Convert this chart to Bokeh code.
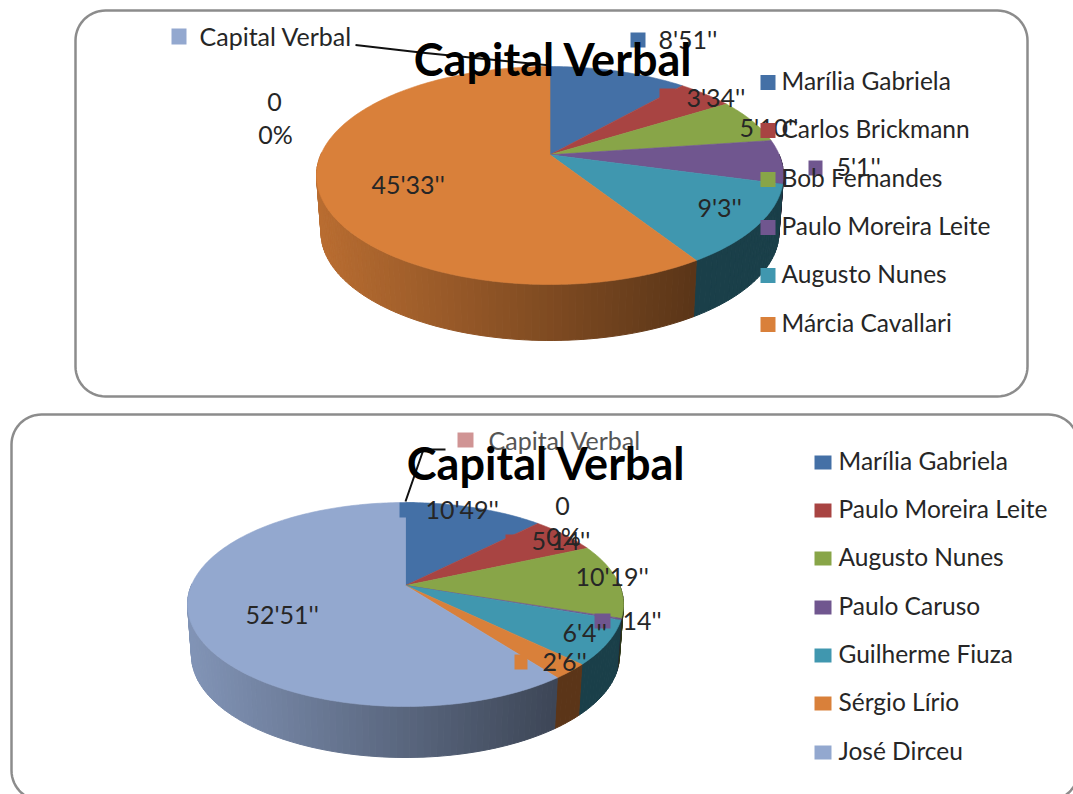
import math
from bokeh.plotting import figure
from bokeh.models import Range1d
from bokeh.core.properties import value
from bokeh.embed import file_html
from bokeh.resources import INLINE

TITLE = "Capital Verbal"
ZERO_SERIES = "Capital Verbal"

# Upper chart: seconds per speaker
top_names = ["Marília Gabriela", "Carlos Brickmann", "Bob Fernandes",
             "Paulo Moreira Leite", "Augusto Nunes", "Márcia Cavallari"]
top_seconds = [531, 214, 310, 301, 543, 2733]
top_labels = ["8'51''", "3'34''", "5'10''", "5'1''", "9'3''", "45'33''"]

# Lower chart: seconds per speaker
low_names = ["Marília Gabriela", "Paulo Moreira Leite", "Augusto Nunes", "Paulo Caruso",
             "Guilherme Fiuza", "Sérgio Lírio", "José Dirceu"]
low_seconds = [649, 314, 619, 14, 364, 126, 3171]
low_labels = ["10'49''", "5'14''", "10'19''", "14''", "6'4''", "2'6''", "52'51''"]

# Styling and layout, kept apart from the data
BLUE, RED, GREEN, PURPLE, TEAL, ORANGE, LIGHT = ("#4470A6", "#A84442", "#88A548", "#70568F",
                                                 "#4097AF", "#D9803A", "#93A8CF")
top_colors = [BLUE, RED, GREEN, PURPLE, TEAL, ORANGE]
low_colors = [BLUE, RED, GREEN, PURPLE, TEAL, ORANGE, LIGHT]
FONT = "Lato"
LEG_SIZE = "24.5px"
LAB_SIZE = "25px"
TITLE_SIZE = "45px"
TXT = "#262626"
W, H = 1073, 794

p = figure(width=W, height=H, x_range=Range1d(0, W), y_range=Range1d(H, 0),
           output_backend="svg", toolbar_location=None, x_axis_location=None, y_axis_location=None,
           min_border=0, outline_line_color=None, background_fill_color="white",
           border_fill_color="white")
p.grid.visible = False


def rounded(x0, y0, x1, y1, r):
    xs, ys = [], []
    for cx, cy, a0 in [(x1 - r, y0 + r, -90), (x1 - r, y1 - r, 0), (x0 + r, y1 - r, 90), (x0 + r, y0 + r, 180)]:
        for k in range(0, 91, 6):
            a = math.radians(a0 + k)
            xs.append(cx + r * math.cos(a))
            ys.append(cy + r * math.sin(a))
    return xs, ys


def shade(color, f):
    c = [int(color[i:i + 2], 16) for i in (1, 3, 5)]
    return "#%02x%02x%02x" % tuple(max(0, min(255, int(v * f))) for v in c)


def rim(theta, cx, cy, rx, ry, d):
    """Rim point of a tilted disc for an angle clockwise from 12 o'clock."""
    u, v = math.sin(theta), -math.cos(theta)
    w = 1 - d * v
    return cx + rx * u * math.sqrt(1 - d * d) / w, cy + ry * (v - d) / w


def draw_pie(values, colors, top, bottom, d, side_fn):
    total = sum(values)
    start = 0.0
    edges = []
    for val, col in zip(values, colors):
        end = start + val / total * 2 * math.pi
        edges.append((start, end, col))
        start = end
    # side strips
    sx, sy, sc = [], [], []
    for a0, a1, col in edges:
        n = max(1, int(math.degrees(a1 - a0) / 1.5))
        for i in range(n):
            t0 = a0 + (a1 - a0) * i / n
            t1 = a0 + (a1 - a0) * (i + 1) / n
            tx0, ty0 = rim(t0, *top, d)
            tx1, ty1 = rim(t1, *top, d)
            bx0, by0 = rim(t0, *bottom, d)
            bx1, by1 = rim(t1, *bottom, d)
            if max(by0, by1) < bottom[1] - 20:
                continue
            sx.append([tx0, tx1, bx1, bx0])
            sy.append([ty0, ty1, by1, by0])
            sc.append(side_fn(col, (tx0 + tx1) / 2))
    p.patches(sx, sy, fill_color=sc, line_color=sc, line_width=1)
    # top face
    fx, fy, fc = [], [], []
    ax, ay = rim(0, *top, d)[0], top[1] - d * top[3]
    for a0, a1, col in edges:
        n = max(2, int(math.degrees(a1 - a0)))
        xs, ys = [ax], [ay]
        for i in range(n + 1):
            x, y = rim(a0 + (a1 - a0) * i / n, *top, d)
            xs.append(x)
            ys.append(y)
        fx.append(xs)
        fy.append(ys)
        fc.append(col)
    p.patches(fx, fy, fill_color=fc, line_color=fc, line_width=0.6)


def top_side(col, x):
    if col == TEAL:
        return shade(col, 0.42)
    f = 0.85 + (x - 320) / (693 - 320) * (0.42 - 0.85)
    return shade(col, f)


def low_side(col, x):
    if col == TEAL:
        return shade(col, 0.42)
    if col == ORANGE:
        return shade(col, 0.42)
    f = 0.88 + (x - 190) / (555 - 190) * (0.42 - 0.88)
    return shade(col, f)


def squares(items):
    p.quad(left=[i[0] for i in items], right=[i[1] for i in items],
           top=[i[2] for i in items], bottom=[i[3] for i in items],
           fill_color=[i[4] for i in items], line_color=None)


def label(x, y, txt, size=LAB_SIZE, color=TXT, align="left", style="normal"):
    p.text([x], [y - 2], text=[txt], text_font=value(FONT), text_font_size=value(size),
           text_color=color, text_align=align, text_baseline="middle", text_font_style=style)


# cards
for box in [(75, 10, 1027, 396, 30), (11, 414, 1078, 800, 30)]:
    xs, ys = rounded(*box)
    p.patch(xs, ys, fill_color="white", line_color="#8C8C8C", line_width=2.5)

# ---------- upper chart
draw_pie(top_seconds, top_colors, (549.5, 175, 233.5, 109), (549.5, 232, 229, 108), 0.19, top_side)
p.line([355, 420, 550], [44.5, 52, 65], line_color="#111111", line_width=2)

squares([(171, 186, 28, 44, LIGHT), (630, 645, 32, 47, BLUE), (659, 675, 88, 101, RED),
         (808, 822, 160, 175, PURPLE)])
label(199, 37, ZERO_SERIES)
label(274, 103, "0", align="center")
label(275, 135, "0%", align="center")
for (x, y), t in zip([(658, 40), (686, 98), (739, 128), (836, 167), (697, 208), (371, 185)], top_labels):
    label(x, y, t)

ly = [82, 130, 179, 227, 275, 324]
squares([(760, 775, y - 7.5, y + 7.5, c) for y, c in zip(ly, top_colors)])
for y, n in zip(ly, top_names):
    label(781, y, n, size=LEG_SIZE)
label(553, 60, TITLE, size=TITLE_SIZE, color="black", align="center", style="bold")

# ---------- lower chart
draw_pie(low_seconds, low_colors, (405, 604, 218, 102), (405, 655, 214, 102), 0.186, low_side)
p.line([445, 423, 405], [449, 449, 501], line_color="#111111", line_width=2)

squares([(457, 473, 432, 447, "#D09494"), (399, 414, 502, 517, BLUE), (505, 520, 534, 548, RED),
         (594, 610, 613, 628, PURPLE), (514, 527, 654, 669, ORANGE)])
label(488, 441, ZERO_SERIES, color="#555555")
label(562, 507, "0", align="center")
label(563, 537, "0%", align="center")
for (x, y), t in zip([(425, 510), (531, 541), (575, 577), (622, 621), (562, 633), (542, 662), (245, 615)],
                     low_labels):
    label(x, y, t)

ly2 = [462, 510, 558, 607, 655, 703, 752]
squares([(814, 831, y - 7, y + 7, c) for y, c in zip(ly2, low_colors)])
for y, n in zip(ly2, low_names):
    label(838, y, n, size=LEG_SIZE)
label(546, 464, TITLE, size=TITLE_SIZE, color="black", align="center", style="bold")

open("out.html", "w").write(file_html(p, INLINE))
